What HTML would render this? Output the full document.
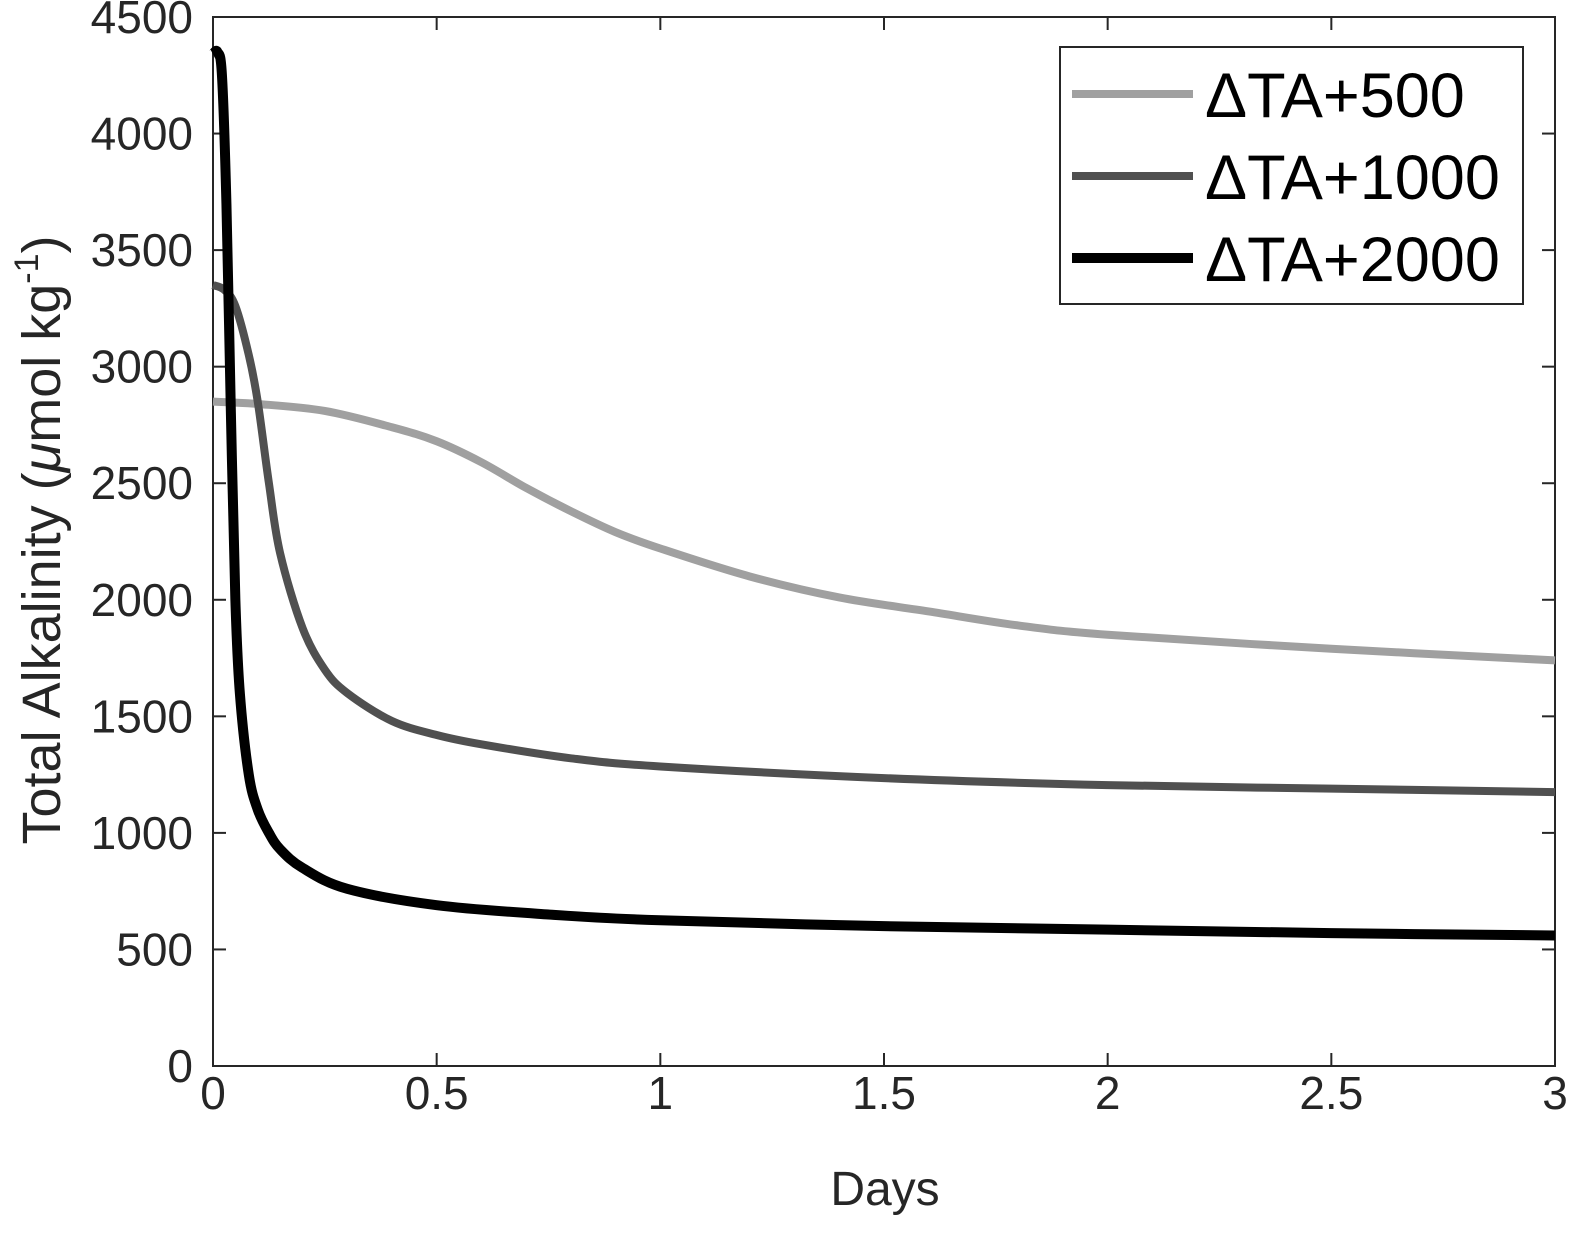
<!DOCTYPE html>
<html><head><meta charset="utf-8"><style>
body{margin:0;background:#fff;}
svg text{font-family:"Liberation Sans",sans-serif;fill:#262626;}
</style></head><body>
<svg id="c" width="1583" height="1230" xmlns="http://www.w3.org/2000/svg"></svg>
<script>
const xTicks=[0,0.5,1,1.5,2,2.5,3];
const xTickLabels=["0","0.5","1","1.5","2","2.5","3"];
const yTicks=[0,500,1000,1500,2000,2500,3000,3500,4000,4500];
const yTickLabels=["0","500","1000","1500","2000","2500","3000","3500","4000","4500"];
const t500=[0,0.1,0.25,0.4,0.5,0.6,0.7,0.8,0.9,1.0,1.2,1.4,1.6,1.8,2.0,2.5,3.0];
const v500=[2850,2840,2810,2740,2680,2590,2480,2380,2290,2220,2100,2010,1950,1890,1850,1790,1740];
const t1000=[0,0.025,0.05,0.08,0.1,0.125,0.15,0.2,0.25,0.3,0.4,0.5,0.6,0.8,1.0,1.5,2.0,2.5,3.0];
const v1000=[3350,3330,3260,3050,2850,2500,2200,1880,1700,1600,1480,1420,1380,1320,1285,1235,1205,1190,1175];
const t2000=[0,0.01,0.02,0.03,0.04,0.05,0.06,0.08,0.1,0.125,0.15,0.2,0.3,0.5,0.75,1.0,1.5,2.0,2.5,3.0];
const v2000=[4340,4350,4250,3700,2800,2000,1600,1250,1100,1000,930,850,760,690,650,625,600,585,570,560];
const seriesNames=["ΔTA+500","ΔTA+1000","ΔTA+2000"];
const L=213,R=1555,T=17,B=1066;
const X=v=>L+(v/3)*(R-L);
const Y=v=>B-(v/4500)*(B-T);
const NS="http://www.w3.org/2000/svg";
const svg=document.getElementById('c');
function mk(tag,attrs,txt){const e=document.createElementNS(NS,tag);for(const k in attrs)e.setAttribute(k,attrs[k]);if(txt!==undefined)e.textContent=txt;svg.appendChild(e);return e;}
let e;
e=mk('rect',{x:L,y:T,width:R-L,height:B-T,fill:'none',stroke:'#262626','stroke-width':2});


xTicks.forEach((v,i)=>{
 e=mk('line',{x1:X(v),x2:X(v),y1:B,y2:B-13,stroke:'#262626','stroke-width':2});
 
 
 e=mk('line',{x1:X(v),x2:X(v),y1:T,y2:T+13,stroke:'#262626','stroke-width':2});
 
 
 e=mk('text',{x:X(v),y:1109,'font-size':46,'text-anchor':'middle'},xTickLabels[i]);
 
 
});
yTicks.forEach((v,i)=>{
 e=mk('line',{x1:L,x2:L+13,y1:Y(v),y2:Y(v),stroke:'#262626','stroke-width':2});
 
 
 e=mk('line',{x1:R,x2:R-13,y1:Y(v),y2:Y(v),stroke:'#262626','stroke-width':2});
 
 
 e=mk('text',{x:193,y:Y(v)+16,'font-size':46,'text-anchor':'end'},yTickLabels[i]);
 
 
});
e=mk('text',{x:885,y:1205,'font-size':48,'text-anchor':'middle'},'Days');


e=mk('text',{x:0,y:0,'font-size':54,'text-anchor':'middle',transform:'translate(60,540) rotate(-90)'});
e.innerHTML='Total Alkalinity (<tspan font-style="italic">μ</tspan>mol kg<tspan font-size="34" dy="-22">-1</tspan><tspan dy="22">)</tspan>';


const series=[[t500,v500,'#a0a0a0',8],[t1000,v1000,'#505050',8],[t2000,v2000,'#000',10]];
series.forEach((s,i)=>{
 const pts=s[0].map((t,j)=>[X(t),Y(s[1][j])]);
 let d='M'+pts[0][0]+','+pts[0][1];
 for(let j=0;j<pts.length-1;j++){
  const p0=pts[Math.max(j-1,0)],p1=pts[j],p2=pts[j+1],p3=pts[Math.min(j+2,pts.length-1)];
  const c1=[p1[0]+(p2[0]-p0[0])/6,p1[1]+(p2[1]-p0[1])/6],c2=[p2[0]-(p3[0]-p1[0])/6,p2[1]-(p3[1]-p1[1])/6];
  d+=' C'+c1[0]+','+c1[1]+' '+c2[0]+','+c2[1]+' '+p2[0]+','+p2[1];
 }
 e=mk('path',{d:d,fill:'none',stroke:s[2],'stroke-width':s[3],'stroke-linejoin':'round'});
 
 
});
e=mk('rect',{x:1060,y:47,width:463,height:257,fill:'#fff',stroke:'#262626','stroke-width':2});


series.forEach((s,i)=>{
 const yy=94+i*82;
 e=mk('line',{x1:1072,x2:1193,y1:yy,y2:yy,stroke:s[2],'stroke-width':s[3]});
 
 
 e=mk('text',{x:1205,y:yy+23,'font-size':63,style:'fill:#000'},seriesNames[i]);
 
 
});
</script>
</body></html>
